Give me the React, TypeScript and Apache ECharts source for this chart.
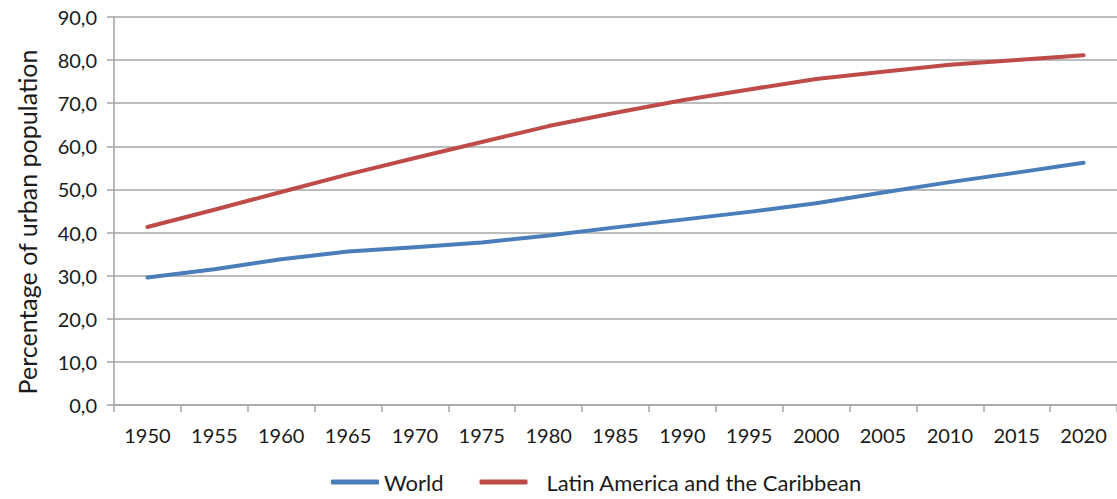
import React, { useEffect, useRef } from "react";
import * as echarts from "echarts";

const years = ["1950", "1955", "1960", "1965", "1970", "1975", "1980", "1985", "1990", "1995", "2000", "2005", "2010", "2015", "2020"];
const world = [29.6, 31.5, 33.8, 35.6, 36.6, 37.7, 39.3, 41.2, 43.0, 44.8, 46.8, 49.3, 51.7, 53.9, 56.2];
const latinAmerica = [41.3, 45.3, 49.4, 53.5, 57.3, 61.0, 64.7, 67.8, 70.7, 73.2, 75.6, 77.3, 78.9, 80.0, 81.1];
const yTicks = { min: 0, max: 90, interval: 10 };

const FONT = "Lato";
const GRID = "#a6a6a6";

export default function App() {
  const ref = useRef<HTMLDivElement>(null);
  useEffect(() => {
    if (!ref.current) return;
    const chart = echarts.init(ref.current, null, { renderer: "svg" });
    chart.setOption({
      animation: false,
      backgroundColor: "#ffffff",
      grid: { left: 114, right: 0, top: 17, bottom: 94, containLabel: false },
      legend: {
        left: 331,
        top: 471,
        padding: 0,
        itemWidth: 48,
        itemHeight: 5,
        itemGap: 36,
        textStyle: {
          fontFamily: FONT,
          fontSize: 22,
          color: "#1a1a1a",
          rich: { p: { fontFamily: FONT, fontSize: 22, color: "#1a1a1a", padding: [0, 0, 0, 14] } },
        },
        formatter: (name: string) => (name === "World" ? name : "{p|" + name + "}"),
        data: [
          { name: "World", icon: "roundRect" },
          { name: "Latin America and the Caribbean", icon: "roundRect" },
        ],
      },
      xAxis: {
        type: "category",
        data: years,
        boundaryGap: true,
        axisLine: { lineStyle: { color: GRID, width: 1.5 } },
        axisTick: { show: true, interval: 0, length: 7, lineStyle: { color: GRID, width: 1.5 } },
        axisLabel: { interval: 0, margin: 20, fontFamily: FONT, fontSize: 20, color: "#1a1a1a" },
        splitLine: { show: false },
      },
      yAxis: {
        type: "value",
        min: yTicks.min,
        max: yTicks.max,
        interval: yTicks.interval,
        name: "Percentage of urban population",
        nameLocation: "middle",
        nameRotate: 90,
        nameGap: 75,
        nameTextStyle: { fontFamily: FONT, fontSize: 25, color: "#1a1a1a", padding: [0, 22, 0, 0] },
        axisLine: { show: true, lineStyle: { color: GRID, width: 1.5 } },
        axisTick: { show: true, length: 7, lineStyle: { color: GRID, width: 1.5 } },
        axisLabel: {
          margin: 17,
          fontFamily: FONT,
          fontSize: 20,
          color: "#1a1a1a",
          formatter: (v: number) => v.toFixed(1).replace(".", ","),
        },
        splitLine: { show: true, lineStyle: { color: GRID, width: 1.5 } },
      },
      series: [
        {
          name: "World",
          type: "line",
          data: world,
          showSymbol: false,
          symbol: "none",
          color: "#4a7ebb",
          lineStyle: { color: "#4a7ebb", width: 4, cap: "round", join: "round" },
        },
        {
          name: "Latin America and the Caribbean",
          type: "line",
          data: latinAmerica,
          showSymbol: false,
          symbol: "none",
          color: "#be4b48",
          lineStyle: { color: "#be4b48", width: 4, cap: "round", join: "round" },
        },
      ],
    });
    return () => chart.dispose();
  }, []);
  return (
    <div
      ref={ref}
      style={{ position: "fixed", left: 0, top: 0, width: 1117, height: 499, background: "#fff" }}
    />
  );
}
